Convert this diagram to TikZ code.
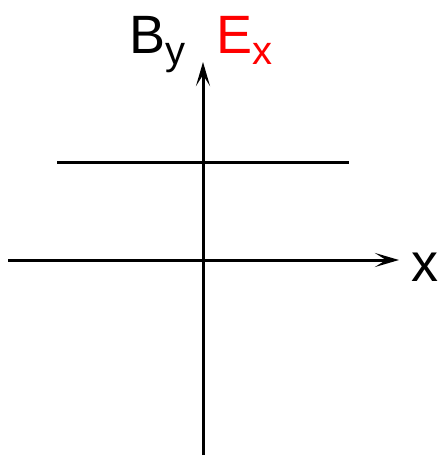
\documentclass[tikz,border=0pt]{standalone}
\usepackage{fontspec}
\setmainfont{Liberation Sans}
\usetikzlibrary{arrows.meta}
\begin{document}
\begin{tikzpicture}[x=1pt,y=-1pt,
  axis/.style={line width=3pt,-{Stealth[length=24pt,width=14pt,inset=11pt]}},
  plain/.style={line width=3pt},
  lbl/.style={inner sep=0pt,anchor=base west,font=\fontsize{54}{54}\selectfont}]
\useasboundingbox (0,0) rectangle (444,456);
\coordinate (xs) at (8,260);
\coordinate (xe) at (399,260);
\coordinate (ys) at (203,455);
\coordinate (ye) at (203,62);
\coordinate (ls) at (57,162);
\coordinate (le) at (349,162);
\draw[plain] (ls) -- (le);
\draw[axis] (xs) -- (xe);
\draw[axis] (ys) -- (ye);
\node[lbl] (by) at (129,53) {B\raisebox{-11pt}{\fontsize{40}{40}\selectfont y}};
\node[lbl,text=red] (ex) at (216,53) {E\raisebox{-11pt}{\fontsize{40}{40}\selectfont x}};
\node[lbl] (xl) at (411,281) {x};
\end{tikzpicture}
\end{document}
